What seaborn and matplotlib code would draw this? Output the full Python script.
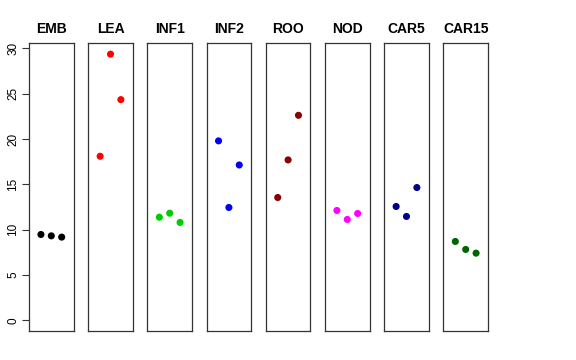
import matplotlib
matplotlib.use('Agg')
from matplotlib import pyplot as plt
import pandas as pd
import seaborn as sns

# tissue panels and their three replicate values
tissues = ['EMB', 'LEA', 'INF1', 'INF2', 'ROO', 'NOD', 'CAR5', 'CAR15']
colors = ['black', 'red', '#00CD00', 'blue', '#8B0000', 'magenta', '#00008B', '#006400']
rep1 = [9.47, 18.1, 11.38, 19.8, 13.55, 12.12, 12.56, 8.7]
rep2 = [9.32, 29.37, 11.82, 12.45, 17.7, 11.13, 11.46, 7.82]
rep3 = [9.18, 24.35, 10.8, 17.14, 22.62, 11.79, 14.65, 7.41]
reps = [1, 2, 3]

sns.set_style('white')
plt.rcParams['font.family'] = ['Liberation Sans', 'DejaVu Sans']
plt.rcParams['text.color'] = 'black'
plt.rcParams['ytick.color'] = 'black'
plt.rcParams['axes.titlecolor'] = 'black'

fig = plt.figure(figsize=(5.76, 3.6), dpi=100)

W, H = 576, 360
left0 = 29
step = 59.2
pw = 44.6
top, bottom = 43, 331

for i, t in enumerate(tissues):
    ax = fig.add_axes([(left0 + i * step) / W, 1 - bottom / H, pw / W, (bottom - top) / H])
    df = pd.DataFrame({'rep': reps, 'value': [rep1[i], rep2[i], rep3[i]]})
    sns.scatterplot(data=df, x='rep', y='value', color=colors[i], s=26,
                    edgecolor='none', ax=ax)
    ax.set_xlim(-0.15, 4.15)
    ax.set_ylim(-1.18, 30.6)
    ax.set_xticks([])
    ax.set_xlabel('')
    ax.set_ylabel('')
    ax.set_title(t, fontsize=10, fontweight='bold', pad=7, color='black')
    for sp in ax.spines.values():
        sp.set_visible(True)
        sp.set_color('#333333')
        sp.set_linewidth(0.9)
    if i == 0:
        ax.set_yticks([0, 5, 10, 15, 20, 25, 30])
        ax.tick_params(axis='y', left=True, length=5, width=0.8, color='#333333',
                       labelcolor='black', labelsize=8.5, pad=2)
        for lab in ax.get_yticklabels():
            lab.set_rotation(90)
            lab.set_va('center')
    else:
        ax.set_yticks([])

fig.savefig('out.png', dpi=100)
